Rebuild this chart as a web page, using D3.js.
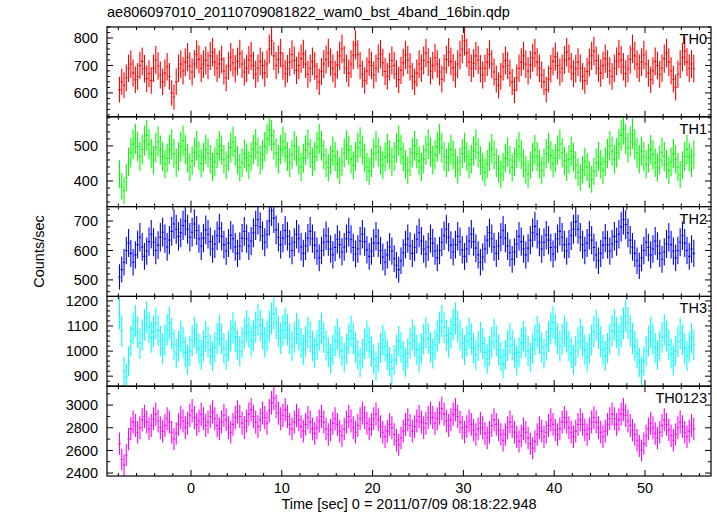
<!DOCTYPE html>
<html>
<head>
<meta charset="utf-8">
<script src="https://cdn.jsdelivr.net/npm/d3@7"></script>
<style>
  html, body { margin: 0; padding: 0; background: #fff; }
  svg { display: block; }
  text { font-family: "Liberation Sans", Arial, Helvetica, sans-serif; fill: #000; }
</style>
</head>
<body>
<script>
// ---------------- DATA ----------------
const title = "ae806097010_20110709081822_wam0_bst_4band_16bin.qdp";
const xLabel = "Time [sec] 0 = 2011/07/09 08:18:22.948";
const yLabel = "Counts/sec";
const binStart = -7.875;   // centre of first bin (s)
const binWidth = 0.25;     // bin width (s)
const xTicks = [0, 10, 20, 30, 40, 50];

const panelNames = ["TH0", "TH1", "TH2", "TH3", "TH0123"];
const panelColors = ["#ff0000", "#00ff00", "#0000ff", "#00ffff", "#ff00ff"];
const panelDomains = [[513, 840], [327, 583], [444, 749], [860, 1218], [2374, 3167]];
const panelTicks = [[600, 700, 800], [400, 500], [500, 600, 700], [900, 1000, 1100, 1200], [2400, 2600, 2800, 3000]];
const panelMinor = [20, 20, 20, 20, 100];

const th0 = [
612,640,628,655,690,705,672,648,660,700,715,688,652,670,645,690,720,698,665,640,
672,695,660,600,585,640,690,705,680,712,730,698,676,705,740,722,690,705,718,700,
735,748,712,690,705,722,680,655,698,730,710,688,715,742,705,676,690,720,735,700,
668,690,715,700,672,705,760,790,735,700,722,745,698,670,688,712,740,718,682,700,
725,742,705,668,690,715,698,660,640,678,705,722,745,712,690,668,702,735,760,720,
690,672,705,738,775,740,700,668,645,680,712,700,665,690,725,742,710,678,660,695,
718,700,670,648,682,710,738,720,695,660,640,672,705,690,718,745,712,680,700,728,
705,676,650,690,722,748,715,692,668,705,738,760,790,745,712,690,708,735,720,688,
665,690,712,740,705,676,650,628,660,695,718,700,672,640,610,655,690,712,735,705,
680,702,728,745,712,690,665,640,612,650,688,715,732,700,676,690,720,748,725,695,
670,688,712,690,660,645,678,710,735,752,718,690,672,700,725,705,680,660,690,715,
742,720,695,670,688,722,760,735,705,690,712,738,705,672,648,680,715,700,668,690,
725,745,712,680,650,620,668,705,730,752,712,690,705,688];

const th1 = [
420,385,372,410,455,480,505,520,498,470,490,515,530,505,478,460,495,512,488,470,
448,465,490,505,478,452,470,498,515,490,465,440,458,482,500,472,450,468,490,480,
462,440,455,478,500,488,462,445,470,495,512,486,460,438,452,478,466,445,470,490,
505,482,460,475,498,520,545,530,505,480,462,490,512,495,470,452,475,500,485,460,
440,465,488,505,478,455,470,498,520,500,475,452,438,460,485,470,448,430,455,480,
502,488,462,445,470,495,510,488,465,440,428,452,478,500,482,460,445,468,492,475,
455,470,495,515,490,468,448,430,455,480,500,478,458,440,462,488,505,482,460,475,
498,520,495,470,452,468,490,475,450,432,455,478,495,470,448,462,485,505,480,458,
440,425,448,470,492,475,452,435,418,440,465,482,460,438,455,478,498,475,450,432,
420,445,468,490,470,448,430,452,478,495,472,450,465,488,505,480,458,440,462,485,
468,445,425,410,432,455,440,418,405,428,452,470,448,430,455,478,500,485,462,480,
505,530,548,520,495,512,535,505,480,462,485,470,448,465,490,475,452,438,460,482,
470,448,430,455,478,462,440,418,445,470,490,468,452,475];

const th2 = [
510,535,560,600,625,590,560,585,620,645,612,580,598,630,655,628,600,618,645,662,
640,612,635,665,690,672,648,660,685,700,672,645,662,690,668,640,615,642,670,655,
630,605,622,650,675,648,620,598,625,652,640,612,590,615,642,665,640,615,632,660,
685,705,680,650,628,655,700,735,710,670,645,620,642,668,648,622,600,628,655,640,
612,590,615,642,665,640,618,598,575,600,628,650,630,605,585,610,638,620,595,612,
640,662,638,610,588,605,632,655,630,602,580,598,625,648,625,600,578,560,585,612,
598,572,550,535,565,592,620,640,615,590,610,638,660,632,605,588,612,640,625,598,
575,600,628,650,672,645,618,595,620,648,630,602,580,605,632,655,630,608,585,560,
578,605,635,660,640,612,590,615,645,668,642,615,592,570,595,622,648,630,605,585,
608,635,660,682,655,628,605,628,652,635,610,588,612,640,665,645,620,598,622,650,
672,698,672,645,620,600,625,652,635,610,585,565,590,618,642,620,598,622,648,630,
655,680,705,688,660,635,612,590,565,548,575,600,628,610,585,605,632,615,590,570,
595,622,645,620,598,575,600,628,650,625,600,580,605,590];

const th3 = [
1150,1080,920,895,960,1040,1090,1120,1075,1030,1065,1105,1135,1095,1055,1078,1110,1082,1040,1010,
1045,1085,1112,1070,1025,990,1020,1060,1035,995,965,1000,1042,1075,1050,1010,985,1020,1058,1035,
1005,980,1015,1050,1082,1048,1012,985,1020,1060,1092,1058,1025,1000,1035,1070,1100,1075,1040,1062,
1095,1125,1102,1068,1035,1060,1098,1130,1150,1112,1078,1050,1082,1110,1085,1048,1020,1055,1090,1065,
1032,1005,1040,1075,1058,1020,992,1025,1062,1090,1055,1022,995,970,1005,1040,1068,1035,1000,975,
1010,1048,1080,1050,1015,985,955,990,1028,1060,1035,998,968,940,975,1012,1045,1020,985,958,
930,965,1005,1040,1015,980,955,990,1030,1065,1040,1005,975,1010,1048,1075,1050,1015,990,1025,
1060,1092,1120,1095,1062,1035,1070,1105,1130,1098,1065,1030,1005,1040,1072,1048,1012,985,1020,1055,
1030,995,968,1000,1035,1068,1040,1005,978,950,985,1020,1050,1025,990,962,995,1032,1060,1035,
1000,975,1010,1045,1078,1050,1015,990,1022,1058,1090,1115,1085,1050,1020,1048,1080,1055,1020,992,
965,1000,1035,1068,1040,1005,978,1010,1045,1078,1102,1070,1038,1005,980,1012,1048,1080,1105,1075,
1042,1078,1110,1140,1112,1080,1050,1020,990,955,920,960,1000,1040,1075,1048,1012,985,1020,1055,
1085,1060,1025,990,962,1000,1038,1070,1045,1010,980,1015,1050,1025];

const th0123 = [
2660,2520,2470,2560,2700,2790,2850,2820,2760,2800,2870,2900,2850,2790,2820,2880,2920,2860,2800,2770,
2820,2880,2850,2760,2700,2750,2830,2890,2860,2800,2840,2910,2950,2890,2830,2860,2920,2880,2820,2850,
2900,2940,2880,2820,2790,2850,2910,2870,2800,2760,2830,2890,2940,2900,2840,2800,2860,2920,2960,2900,
2850,2810,2870,2930,2890,2840,2950,3020,3060,2990,2930,2880,2910,2960,2900,2830,2790,2850,2910,2870,
2810,2770,2830,2890,2850,2790,2750,2800,2860,2900,2850,2790,2740,2780,2840,2880,2830,2770,2730,2790,
2850,2900,2860,2800,2760,2820,2880,2930,2890,2840,2790,2830,2880,2920,2870,2810,2760,2720,2770,2830,
2800,2740,2690,2650,2710,2770,2830,2870,2820,2770,2810,2860,2900,2850,2800,2840,2890,2930,2890,2840,
2880,2930,2970,2920,2860,2820,2870,2920,2960,2900,2850,2800,2760,2810,2860,2830,2780,2740,2790,2840,
2800,2750,2710,2760,2820,2870,2830,2780,2740,2690,2740,2800,2850,2810,2760,2720,2680,2730,2790,2760,
2710,2660,2620,2680,2740,2800,2770,2720,2760,2820,2870,2830,2780,2740,2790,2850,2890,2850,2800,2760,
2720,2770,2830,2870,2830,2780,2740,2790,2850,2890,2850,2800,2760,2720,2770,2830,2880,2920,2880,2830,
2870,2920,2960,2910,2860,2820,2780,2740,2690,2640,2600,2660,2730,2790,2840,2800,2750,2710,2760,2820,
2870,2830,2780,2730,2690,2740,2800,2850,2810,2760,2720,2770,2820,2790];

const panelSeries = [th0, th1, th2, th3, th0123];

// ---------------- LAYOUT ----------------
(function () {
const W = 717, H = 516;
const mL = 107, mR = 711, mT = 27, mB = 476;
const nP = panelSeries.length;
const pH = (mB - mT) / nP;

const svg = d3.select("body").append("svg").attr("width", W).attr("height", H);

const x = d3.scaleLinear().domain([-9.25, 57.27]).range([mL, mR]);

svg.append("text").attr("x", mL).attr("y", 17).attr("font-size", 14.5).text(title);

svg.append("text")
  .attr("transform", `translate(44,${(mT + mB) / 2}) rotate(-90)`)
  .attr("text-anchor", "middle").attr("font-size", 14.5).text(yLabel);

svg.append("text").attr("x", (mL + mR) / 2).attr("y", 509)
  .attr("text-anchor", "middle").attr("font-size", 14.5).text(xLabel);

const defs = svg.append("defs");

panelSeries.forEach((vals, p) => {
  const y0 = mT + p * pH, y1 = y0 + pH;
  const y = d3.scaleLinear().domain(panelDomains[p]).range([y1, y0]);
  const g = svg.append("g");

  defs.append("clipPath").attr("id", "clip" + p)
    .append("rect").attr("x", mL).attr("y", y0).attr("width", mR - mL).attr("height", pH);

  const data = vals.map((v, i) => {
    const t = binStart + i * binWidth;
    const e = Math.sqrt(v / binWidth) * 0.95;   // counting-statistics error
    return { t, v, e };
  });

  const dg = g.append("g").attr("clip-path", `url(#clip${p})`)
    .attr("stroke", panelColors[p]).attr("stroke-width", 1.1);
  dg.selectAll("line.v").data(data).join("line").attr("class", "v")
    .attr("x1", d => x(d.t)).attr("x2", d => x(d.t))
    .attr("y1", d => y(d.v - d.e)).attr("y2", d => y(d.v + d.e));
  dg.selectAll("line.h").data(data).join("line").attr("class", "h")
    .attr("x1", d => x(d.t - binWidth / 2)).attr("x2", d => x(d.t + binWidth / 2))
    .attr("y1", d => y(d.v)).attr("y2", d => y(d.v));

  const xMinor = d3.range(-8, 57, 2);
  const tk = g.append("g").attr("stroke", "#000").attr("stroke-width", 1);
  xMinor.forEach(v => {
    const len = (v % 10 === 0) ? 6 : 3;
    tk.append("line").attr("x1", x(v)).attr("x2", x(v)).attr("y1", y1).attr("y2", y1 - len);
    tk.append("line").attr("x1", x(v)).attr("x2", x(v)).attr("y1", y0).attr("y2", y0 + len);
  });
  const [dmin, dmax] = panelDomains[p];
  const mStep = panelMinor[p];
  const majors = panelTicks[p];
  const majStep = majors[1] - majors[0];
  d3.range(Math.ceil(dmin / mStep) * mStep, dmax + 0.001, mStep).forEach(v => {
    const isMaj = Math.abs(v / majStep - Math.round(v / majStep)) < 1e-6;
    const len = isMaj ? 6 : 3;
    tk.append("line").attr("x1", mL).attr("x2", mL + len).attr("y1", y(v)).attr("y2", y(v));
    tk.append("line").attr("x1", mR).attr("x2", mR - len).attr("y1", y(v)).attr("y2", y(v));
  });
  g.selectAll("text.yt").data(majors).join("text").attr("class", "yt")
    .attr("x", mL - 9).attr("y", d => y(d)).attr("dy", "0.36em")
    .attr("text-anchor", "end").attr("font-size", 14.5).text(d => d);

  g.append("rect").attr("x", mL).attr("y", y0).attr("width", mR - mL).attr("height", pH)
    .attr("fill", "none").attr("stroke", "#000").attr("stroke-width", 1.2);

  g.append("text").attr("x", mR - 4).attr("y", y0 + 17).attr("text-anchor", "end")
    .attr("font-size", 14.5).text(panelNames[p]);

  if (p === nP - 1) {
    g.selectAll("text.xt").data(xTicks).join("text").attr("class", "xt")
      .attr("x", d => x(d)).attr("y", y1 + 17).attr("text-anchor", "middle")
      .attr("font-size", 14.5).text(d => d);
  }
});
})();
</script>
</body>
</html>
